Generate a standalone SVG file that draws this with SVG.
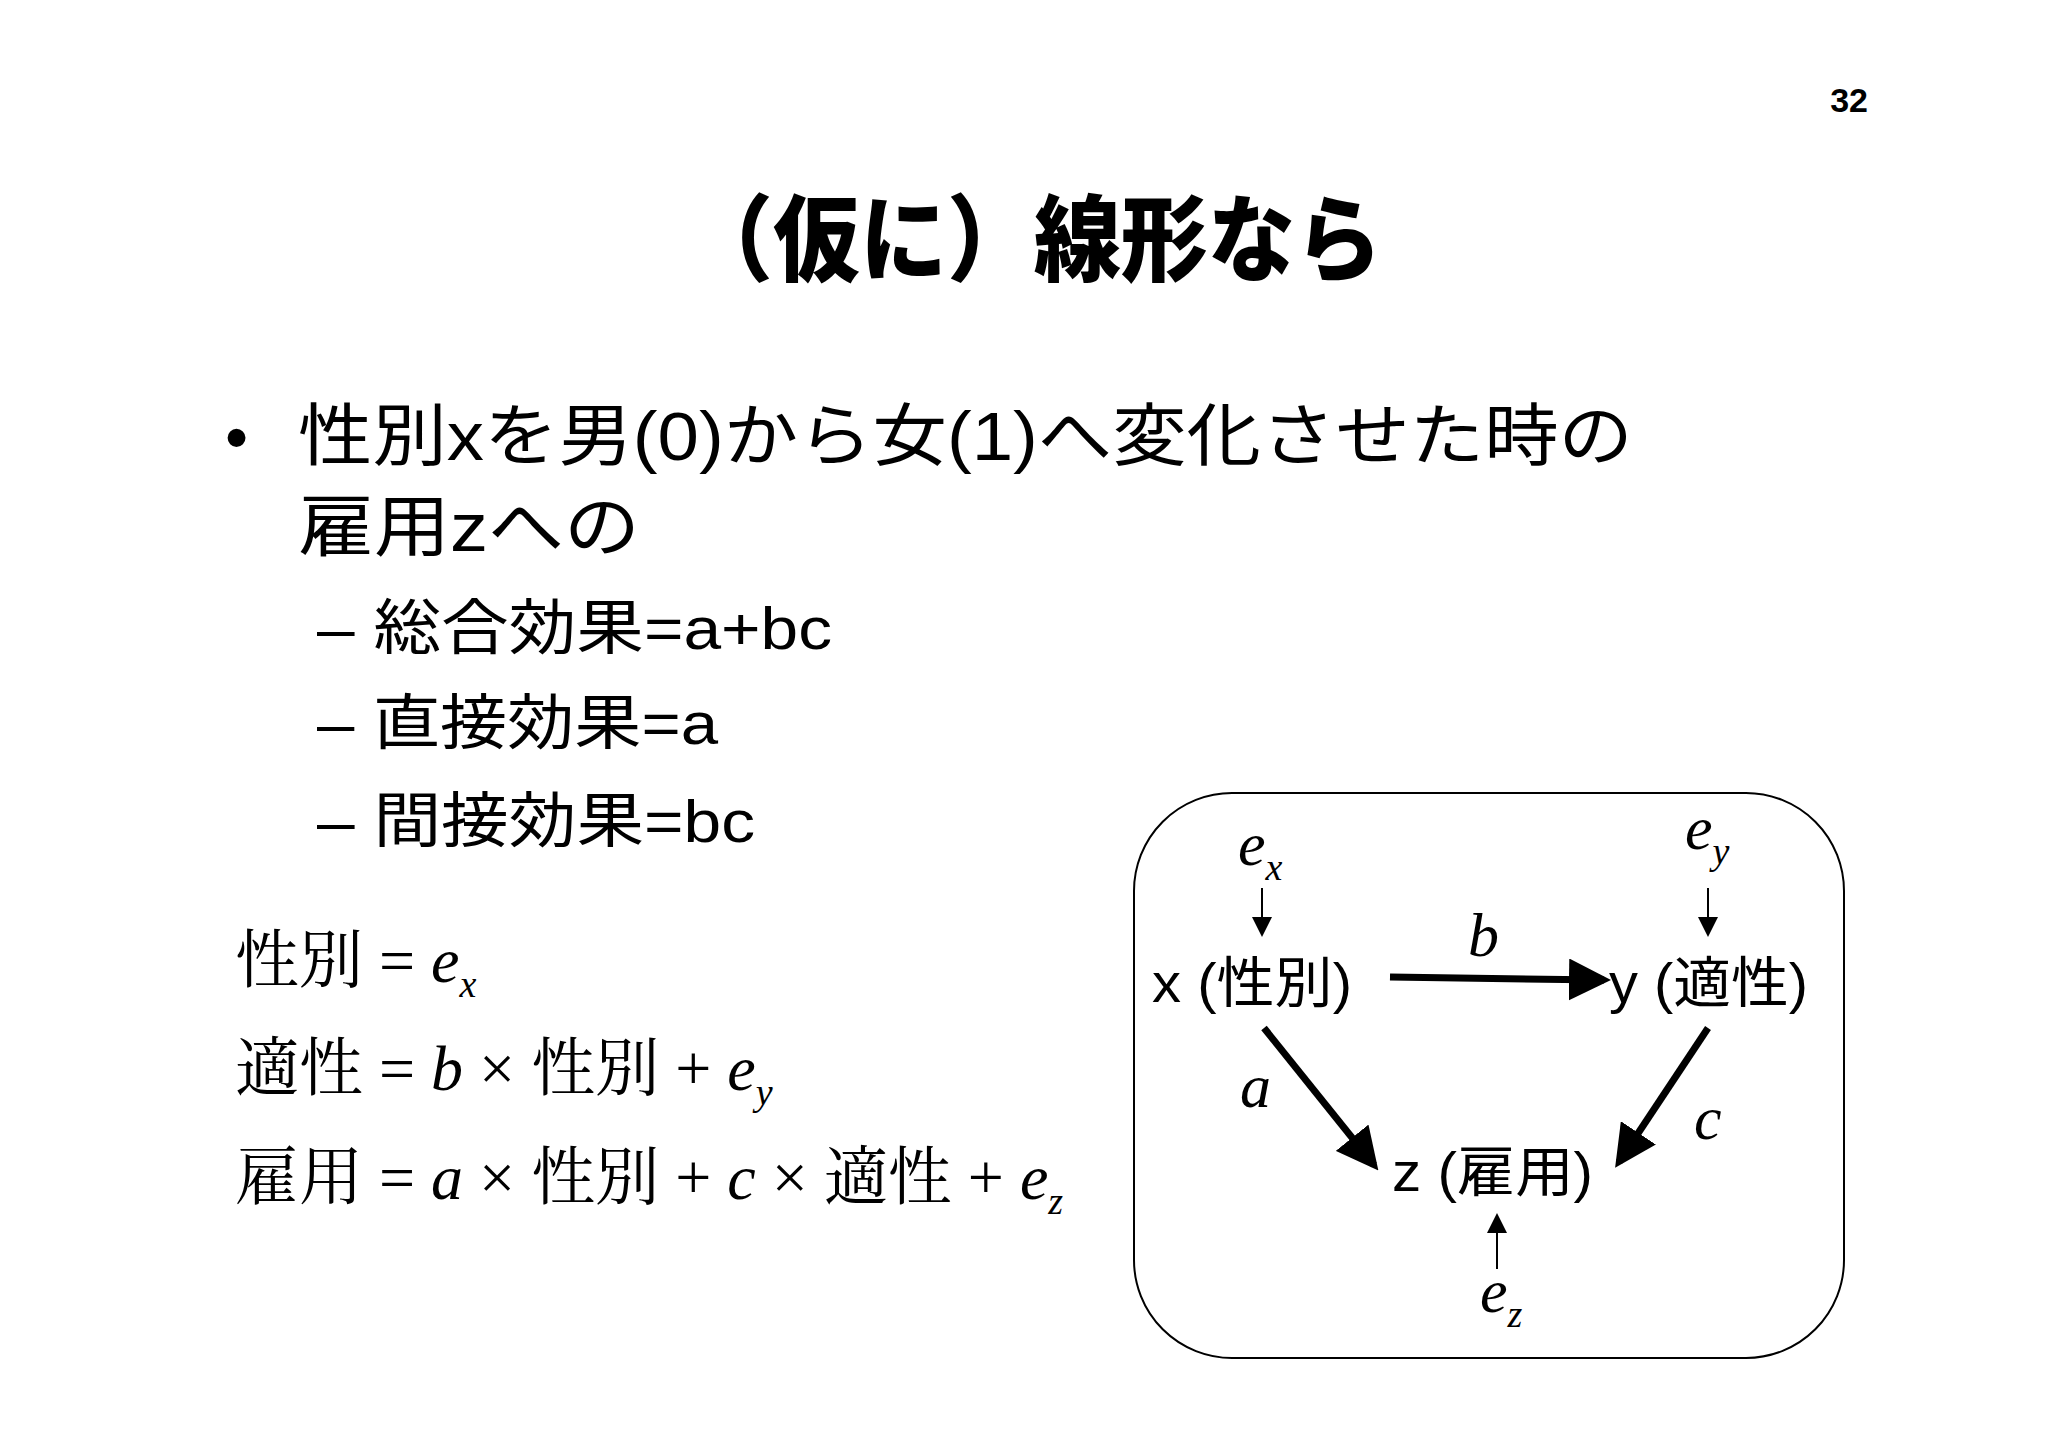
<svg xmlns="http://www.w3.org/2000/svg" width="2048" height="1448" viewBox="0 0 2048 1448">
<defs>
<style>
.s{font-family:"Liberation Sans","Noto Sans CJK JP",sans-serif;fill:#000}
.m{font-family:"Liberation Serif","Noto Serif CJK JP","Noto Sans CJK JP",serif;fill:#000}
.i{font-family:"Liberation Serif",serif;font-style:italic;fill:#000}
.thick{stroke:#000;stroke-width:7;fill:none}
.thin{stroke:#000;stroke-width:2;fill:none}
</style>
<marker id="big" markerWidth="6" markerHeight="6" refX="5" refY="3" orient="auto" markerUnits="strokeWidth"><path d="M0,0 L6,3 L0,6 Z"/></marker>
<marker id="sm" markerWidth="10" markerHeight="10" refX="9" refY="5" orient="auto" markerUnits="strokeWidth"><path d="M0,0 L10,5 L0,10 Z"/></marker>
</defs>
<rect width="2048" height="1448" fill="#fff"/>
<text class="s" x="1868" y="112" font-size="34" font-weight="bold" text-anchor="end">32</text>
<text class="s" x="686" y="274" font-size="94" font-weight="900" textLength="696" lengthAdjust="spacingAndGlyphs">（仮に）線形なら</text>
<g id="bullets">
<text class="s" x="225" y="460" font-size="66">•</text>
<text class="s" x="298" y="460" font-size="68" textLength="1335" lengthAdjust="spacingAndGlyphs">性別xを男(0)から女(1)へ変化させた時の</text>
<text class="s" x="298" y="551" font-size="68" textLength="342" lengthAdjust="spacingAndGlyphs">雇用zへの</text>
<text class="s" x="317" y="649" font-size="60" textLength="515" lengthAdjust="spacingAndGlyphs">– 総合効果=a+bc</text>
<text class="s" x="317" y="744" font-size="60" textLength="401" lengthAdjust="spacingAndGlyphs">– 直接効果=a</text>
<text class="s" x="317" y="842" font-size="60" textLength="438" lengthAdjust="spacingAndGlyphs">– 間接効果=bc</text>
</g>
<g id="equations" font-size="64">
<text class="m" x="235" y="982">性別 = <tspan class="i">e</tspan><tspan class="i" font-size="38" dy="15">x</tspan></text>
<text class="m" x="235" y="1090">適性 = <tspan class="i">b</tspan> × 性別 + <tspan class="i">e</tspan><tspan class="i" font-size="38" dy="15">y</tspan></text>
<text class="m" x="235" y="1199">雇用 = <tspan class="i">a</tspan> × 性別 + <tspan class="i">c</tspan> × 適性 + <tspan class="i">e</tspan><tspan class="i" font-size="38" dy="15">z</tspan></text>
</g>
<rect x="1134" y="793" width="710" height="565" rx="98" fill="none" stroke="#000" stroke-width="2"/>
<g id="node-x"><text class="s" x="1152" y="1002" font-size="55" textLength="200" lengthAdjust="spacingAndGlyphs">x (性別)</text></g>
<g id="node-y"><text class="s" x="1609" y="1002" font-size="55" textLength="199" lengthAdjust="spacingAndGlyphs">y (適性)</text></g>
<g id="node-z"><text class="s" x="1392" y="1191" font-size="55" textLength="201" lengthAdjust="spacingAndGlyphs">z (雇用)</text></g>
<g id="err-x"><text class="i" x="1238" y="865" font-size="62">e<tspan font-size="38" dy="15">x</tspan></text></g>
<g id="err-y"><text class="i" x="1685" y="849" font-size="62">e<tspan font-size="38" dy="15">y</tspan></text></g>
<g id="err-z"><text class="i" x="1480" y="1312" font-size="62">e<tspan font-size="38" dy="15">z</tspan></text></g>
<g id="labels" font-size="62">
<text class="i" x="1468" y="956">b</text>
<text class="i" x="1240" y="1107">a</text>
<text class="i" x="1694" y="1139">c</text>
</g>
<g id="connectors">
<line class="thin" x1="1262" y1="888" x2="1262" y2="935" marker-end="url(#sm)"/>
<line class="thin" x1="1708" y1="888" x2="1708" y2="935" marker-end="url(#sm)"/>
<line class="thin" x1="1497" y1="1269" x2="1497" y2="1215" marker-end="url(#sm)"/>
<line class="thick" x1="1390" y1="977" x2="1604" y2="980" marker-end="url(#big)"/>
<line class="thick" x1="1264" y1="1028" x2="1374" y2="1165" marker-end="url(#big)"/>
<line class="thick" x1="1708" y1="1028" x2="1619" y2="1162" marker-end="url(#big)"/>
</g>
</svg>
